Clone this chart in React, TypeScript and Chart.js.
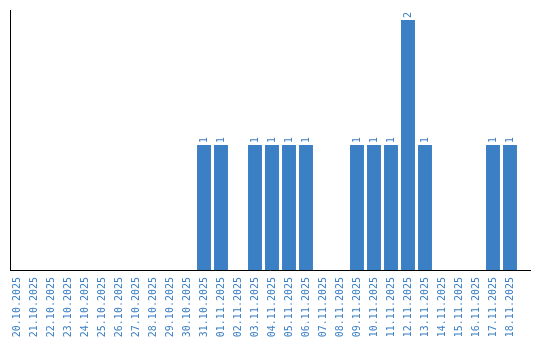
import React, { useEffect, useRef } from "react";
import { Chart, registerables } from "chart.js";

Chart.register(...registerables);

const categories: string[] = [
  "20.10.2025", "21.10.2025", "22.10.2025", "23.10.2025", "24.10.2025",
  "25.10.2025", "26.10.2025", "27.10.2025", "28.10.2025", "29.10.2025",
  "30.10.2025", "31.10.2025", "01.11.2025", "02.11.2025", "03.11.2025",
  "04.11.2025", "05.11.2025", "06.11.2025", "07.11.2025", "08.11.2025",
  "09.11.2025", "10.11.2025", "11.11.2025", "12.11.2025", "13.11.2025",
  "14.11.2025", "15.11.2025", "16.11.2025", "17.11.2025", "18.11.2025",
];

const counts: number[] = [
  0, 0, 0, 0, 0,
  0, 0, 0, 0, 0,
  0, 1, 1, 0, 1,
  1, 1, 1, 0, 0,
  1, 1, 1, 2, 1,
  0, 0, 0, 1, 1,
];

const BLUE = "#3b7fc4";
const FONT = "'DejaVu Sans Mono', monospace";

const valueLabels = {
  id: "valueLabels",
  afterDatasetsDraw(chart: any) {
    const ctx = chart.ctx;
    const meta = chart.getDatasetMeta(0);
    ctx.save();
    ctx.fillStyle = BLUE;
    ctx.font = `10px ${FONT}`;
    ctx.textAlign = "left";
    ctx.textBaseline = "middle";
    meta.data.forEach((bar: any, i: number) => {
      const v = chart.data.datasets[0].data[i];
      if (!v) return;
      ctx.save();
      ctx.translate(bar.x, bar.y - 2);
      ctx.rotate(-Math.PI / 2);
      ctx.fillText(String(v), 0, 0);
      ctx.restore();
    });
    ctx.restore();
  },
};

const axisLines = {
  id: "axisLines",
  afterDraw(chart: any) {
    const ctx = chart.ctx;
    const a = chart.chartArea;
    ctx.save();
    ctx.strokeStyle = "#000";
    ctx.lineWidth = 1;
    ctx.beginPath();
    ctx.moveTo(10.5, a.top);
    ctx.lineTo(10.5, a.bottom + 0.5);
    ctx.moveTo(10, a.bottom + 0.5);
    ctx.lineTo(531, a.bottom + 0.5);
    ctx.stroke();
    ctx.restore();
  },
};

export default function App() {
  const ref = useRef<HTMLCanvasElement>(null);
  useEffect(() => {
    document.body.style.margin = "0";
    const chart = new Chart(ref.current!, {
      type: "bar",
      data: {
        labels: categories,
        datasets: [
          {
            data: counts,
            backgroundColor: BLUE,
            borderWidth: 0,
            barPercentage: 0.82,
            categoryPercentage: 1,
          },
        ],
      },
      options: {
        animation: false,
        responsive: false,
        layout: { padding: { left: 8.5, right: 21.5, top: 10, bottom: 0 } },
        plugins: { legend: { display: false }, tooltip: { enabled: false } },
        scales: {
          x: {
            grid: { display: false, drawTicks: false },
            border: { display: false },
            afterFit: (scale: any) => {
              scale.height = 70;
            },
            ticks: {
              color: BLUE,
              font: { family: FONT, size: 10 },
              minRotation: 90,
              maxRotation: 90,
              autoSkip: false,
              padding: 7,
            },
          },
          y: {
            min: 0,
            max: 2.08,
            grid: { display: false, drawTicks: false },
            border: { display: false },
            ticks: { display: false },
          },
        },
      },
      plugins: [valueLabels, axisLines],
    });
    return () => chart.destroy();
  }, []);
  return <canvas ref={ref} width={540} height={340} style={{ display: "block" }} />;
}
